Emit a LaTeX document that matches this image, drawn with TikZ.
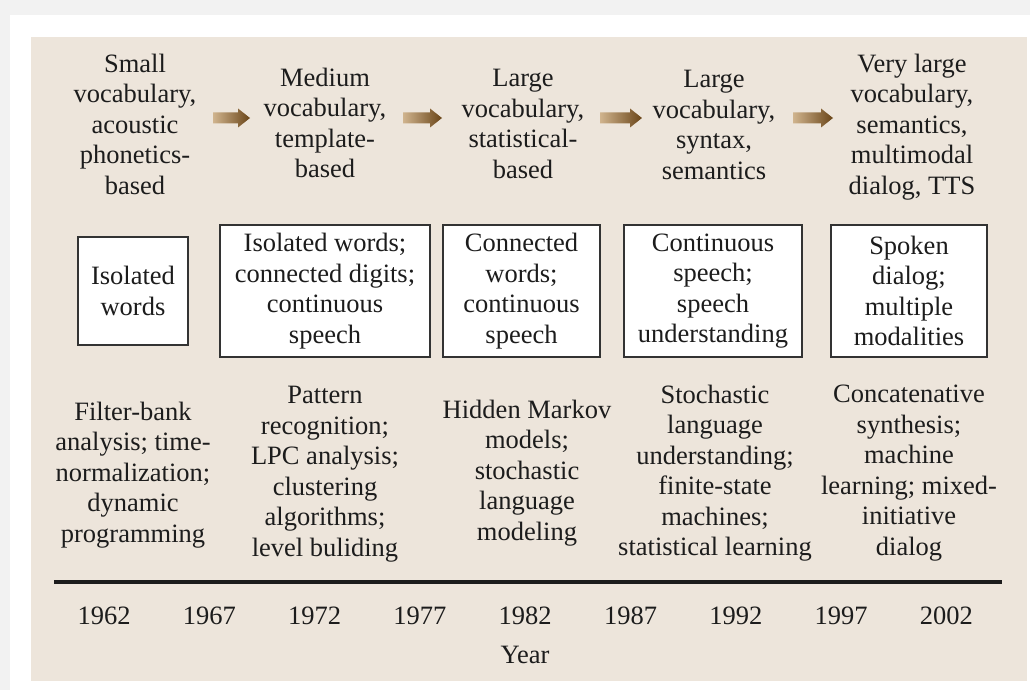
\documentclass[tikz,border=0pt]{standalone}
\usepackage{fontspec}
\setmainfont{Liberation Serif}
\usetikzlibrary{calc}

\definecolor{pagegray}{HTML}{F2F2F2}
\definecolor{panel}{HTML}{EDE5DB}
\definecolor{ink}{HTML}{1C1C1C}
\definecolor{boxline}{HTML}{333333}
\definecolor{arrowlight}{HTML}{D0B48E}
\definecolor{arrowdark}{HTML}{6A4518}

% thick shaded block arrow between two named points
\newcommand\shadedarrow[2]{%
  \shade[left color=arrowlight, right color=arrowdark]
    let \p1=(#1), \p2=(#2) in
    (\x1,\y1+5.5pt) -- (\x2-12pt,\y1+5.5pt) -- (\x2-12pt,\y1+9.5pt) -- (\x2,\y1)
    -- (\x2-12pt,\y1-9.5pt) -- (\x2-12pt,\y1-5.5pt) -- (\x1,\y1-5.5pt) -- cycle;}

\begin{document}
\begin{tikzpicture}[x=1pt,y=-1pt,
    txt/.style={font=\fontsize{26.5}{30.5}\selectfont, align=center,
                text=ink, inner sep=0pt},
    stagebox/.style={txt, draw=boxline, line width=2pt, fill=white,
                     minimum height=132pt},
    yearlbl/.style={txt}]
  \useasboundingbox (0,0) rectangle (1030,690);
  % page and panel
  \fill[pagegray] (0,0) rectangle (1030,690);
  \fill[white] (10,15) rectangle (1030,690);
  \fill[panel] (31,37) rectangle (1027,681);

  % vocabulary / approach stages
  \node[txt] (v1) at (135,124) {Small\\vocabulary,\\acoustic\\phonetics-\\based};
  \node[txt] (v2) at (325,123) {Medium\\vocabulary,\\template-\\based};
  \node[txt] (v3) at (523,124) {Large\\vocabulary,\\statistical-\\based};
  \node[txt] (v4) at (714,125) {Large\\vocabulary,\\syntax,\\semantics};
  \node[txt] (v5) at (912,127) {Very large\\vocabulary,\\semantics,\\multimodal\\dialog, TTS};

  % arrows between stages
  \coordinate (a1s) at (213,118); \coordinate (a1e) at (250,118);
  \coordinate (a2s) at (403,118); \coordinate (a2e) at (442,118);
  \coordinate (a3s) at (600,118); \coordinate (a3e) at (642,118);
  \coordinate (a4s) at (793,118); \coordinate (a4e) at (833,118);
  \shadedarrow{a1s}{a1e}
  \shadedarrow{a2s}{a2e}
  \shadedarrow{a3s}{a3e}
  \shadedarrow{a4s}{a4e}

  % task boxes
  \node[stagebox, minimum width=110pt, minimum height=108pt] (b1) at (133,291) {Isolated\\words};
  \node[stagebox, minimum width=210pt] (b2) at (325,291) {Isolated words;\\connected digits;\\continuous\\speech};
  \node[stagebox, minimum width=157pt] (b3) at (521.5,291) {Connected\\words;\\continuous\\speech};
  \node[stagebox, minimum width=178pt] (b4) at (713,291) {Continuous\\speech;\\speech\\understanding};
  \node[stagebox, minimum width=156pt] (b5) at (909,291) {Spoken\\dialog;\\multiple\\modalities};

  % technologies
  \node[txt] (t1) at (133,475) {Filter-bank\\analysis; time-\\normalization;\\dynamic\\programming};
  \node[txt] (t2) at (325,474) {Pattern\\recognition;\\LPC analysis;\\clustering\\algorithms;\\level buliding};
  \node[txt] (t3) at (527,473) {Hidden Markov\\models;\\stochastic\\language\\modeling};
  \node[txt] (t4) at (715,473) {Stochastic\\language\\understanding;\\finite-state\\machines;\\statistical learning};
  \node[txt] (t5) at (909,473) {Concatenative\\synthesis;\\machine\\learning; mixed-\\initiative\\dialog};

  % time axis
  \coordinate (axl) at (54,582);
  \coordinate (axr) at (1002,582);
  \draw[line width=3.5pt, ink] (axl) -- (axr);
  \foreach \yr [count=\i from 0] in {1962,1967,1972,1977,1982,1987,1992,1997,2002}
    \node[yearlbl] (y\yr) at (104+105.3*\i,616) {\yr};
  \node[yearlbl] (ylabel) at (525,655) {Year};
\end{tikzpicture}
\end{document}
